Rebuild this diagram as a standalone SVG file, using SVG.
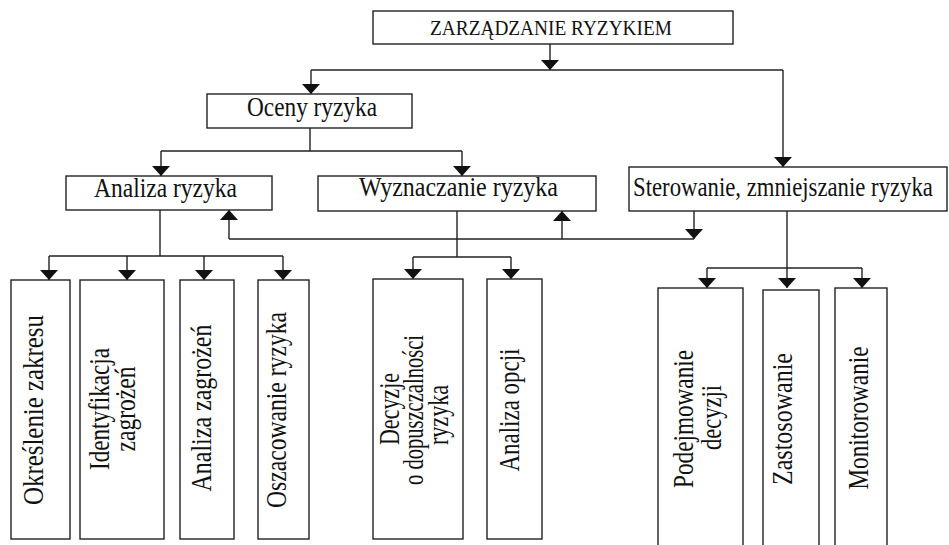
<svg xmlns="http://www.w3.org/2000/svg" width="949" height="545" viewBox="0 0 949 545">
  <style>
    .box { fill: #fff; stroke: #222; stroke-width: 1.4; }
    .wire { fill: none; stroke: #222; stroke-width: 1.4; }
    .lbl { font-family: "Liberation Serif", "Times New Roman", serif; fill: #111; }
    .h { font-size: 27px; }
    .v { font-size: 29px; text-anchor: middle; }
    .t { font-size: 20.5px; }
  </style>
  <defs>
    <marker id="arr" viewBox="0 0 10 18" refX="10" refY="9" markerWidth="10" markerHeight="18" orient="auto" markerUnits="userSpaceOnUse">
      <path d="M0,0 L10,9 L0,18 Z" fill="#111"/>
    </marker>
  </defs>
  <rect width="949" height="545" fill="#fff"/>

  <!-- connectors -->
  <g id="connectors">
    <path class="wire" d="M550,44 V70" marker-end="url(#arr)"/>
    <path class="wire" d="M311,70 H783"/>
    <path class="wire" d="M311,70 V94" marker-end="url(#arr)"/>
    <path class="wire" d="M783,70 V167" marker-end="url(#arr)"/>

    <path class="wire" d="M310,128 V151 M161,151 H462"/>
    <path class="wire" d="M161,151 V176" marker-end="url(#arr)"/>
    <path class="wire" d="M462,151 V176" marker-end="url(#arr)"/>

    <path class="wire" d="M160,210 V256 M49,256 H283"/>
    <path class="wire" d="M49,256 V280" marker-end="url(#arr)"/>
    <path class="wire" d="M127,256 V280" marker-end="url(#arr)"/>
    <path class="wire" d="M204,256 V280" marker-end="url(#arr)"/>
    <path class="wire" d="M283,256 V280" marker-end="url(#arr)"/>

    <path class="wire" d="M457,211 V257 M413,257 H511"/>
    <path class="wire" d="M413,257 V279" marker-end="url(#arr)"/>
    <path class="wire" d="M511,257 V279" marker-end="url(#arr)"/>

    <!-- feedback loop from control back to the assessment stages -->
    <path class="wire" d="M694,211 V239" marker-end="url(#arr)"/>
    <path class="wire" d="M229,239 H694"/>
    <path class="wire" d="M229,239 V210" marker-end="url(#arr)"/>
    <path class="wire" d="M562,239 V211" marker-end="url(#arr)"/>

    <path class="wire" d="M787,211 V288" marker-end="url(#arr)"/>
    <path class="wire" d="M707,268 H862"/>
    <path class="wire" d="M707,268 V288" marker-end="url(#arr)"/>
    <path class="wire" d="M862,268 V288" marker-end="url(#arr)"/>
  </g>

  <!-- top level -->
  <g id="zarzadzanie">
    <rect class="box" x="373" y="11" width="360" height="33"/>
    <text class="lbl t" transform="translate(430,35) scale(0.92,1)" textLength="263" lengthAdjust="spacingAndGlyphs">ZARZĄDZANIE RYZYKIEM</text>
  </g>

  <g id="oceny">
    <rect class="box" x="207" y="94" width="205" height="34"/>
    <text class="lbl h" transform="translate(247,116) scale(0.87,1)" textLength="149.4" lengthAdjust="spacingAndGlyphs">Oceny ryzyka</text>
  </g>

  <g id="analiza">
    <rect class="box" x="66" y="176" width="206" height="34"/>
    <text class="lbl h" transform="translate(94,197) scale(0.9,1)" textLength="158.9" lengthAdjust="spacingAndGlyphs">Analiza ryzyka</text>
  </g>

  <g id="wyznaczanie">
    <rect class="box" x="318" y="176" width="278" height="35"/>
    <text class="lbl h" transform="translate(359,196) scale(0.88,1)" textLength="226.1" lengthAdjust="spacingAndGlyphs">Wyznaczanie ryzyka</text>
  </g>

  <g id="sterowanie">
    <rect class="box" x="629" y="167" width="318" height="44"/>
    <text class="lbl h" transform="translate(633,196) scale(0.86,1)" textLength="348.8" lengthAdjust="spacingAndGlyphs">Sterowanie, zmniejszanie ryzyka</text>
  </g>

  <!-- analysis steps -->
  <g id="okreslenie">
    <rect class="box" x="11" y="280" width="59" height="259"/>
    <text class="lbl v" transform="translate(42.7,410) rotate(-90)" textLength="190" lengthAdjust="spacingAndGlyphs">Określenie zakresu</text>
  </g>

  <g id="identyfikacja">
    <rect class="box" x="80" y="280" width="84" height="259"/>
    <text class="lbl v" transform="translate(109.3,409) rotate(-90)" textLength="122" lengthAdjust="spacingAndGlyphs">Identyfikacja</text>
    <text class="lbl v" transform="translate(135,409) rotate(-90)" textLength="85" lengthAdjust="spacingAndGlyphs">zagrożeń</text>
  </g>

  <g id="analiza-zagrozen">
    <rect class="box" x="180" y="280" width="54" height="259"/>
    <text class="lbl v" transform="translate(210.7,408) rotate(-90)" textLength="167" lengthAdjust="spacingAndGlyphs">Analiza zagrożeń</text>
  </g>

  <g id="oszacowanie">
    <rect class="box" x="258" y="280" width="51" height="259"/>
    <text class="lbl v" transform="translate(286,410) rotate(-90)" textLength="196" lengthAdjust="spacingAndGlyphs">Oszacowanie ryzyka</text>
  </g>

  <!-- evaluation steps -->
  <g id="decyzje">
    <rect class="box" x="373" y="279" width="90" height="260"/>
    <text class="lbl v" transform="translate(399.3,409) rotate(-90)" textLength="72" lengthAdjust="spacingAndGlyphs">Decyzje</text>
    <text class="lbl v" transform="translate(423,410) rotate(-90)" textLength="150" lengthAdjust="spacingAndGlyphs">o dopuszczalności</text>
    <text class="lbl v" transform="translate(448,415) rotate(-90)" textLength="60" lengthAdjust="spacingAndGlyphs">ryzyka</text>
  </g>

  <g id="analiza-opcji">
    <rect class="box" x="487" y="279" width="55" height="260"/>
    <text class="lbl v" transform="translate(519.3,410) rotate(-90)" textLength="123" lengthAdjust="spacingAndGlyphs">Analiza opcji</text>
  </g>

  <!-- control steps -->
  <g id="podejmowanie">
    <rect class="box" x="658" y="288" width="85" height="270"/>
    <text class="lbl v" transform="translate(692.7,419) rotate(-90)" textLength="138" lengthAdjust="spacingAndGlyphs">Podejmowanie</text>
    <text class="lbl v" transform="translate(721,417.5) rotate(-90)" textLength="65" lengthAdjust="spacingAndGlyphs">decyzji</text>
  </g>

  <g id="zastosowanie">
    <rect class="box" x="763" y="290" width="56" height="268"/>
    <text class="lbl v" transform="translate(791.7,419) rotate(-90)" textLength="132" lengthAdjust="spacingAndGlyphs">Zastosowanie</text>
  </g>

  <g id="monitorowanie">
    <rect class="box" x="835" y="288" width="52" height="270"/>
    <text class="lbl v" transform="translate(868.3,418) rotate(-90)" textLength="143" lengthAdjust="spacingAndGlyphs">Monitorowanie</text>
  </g>
</svg>
